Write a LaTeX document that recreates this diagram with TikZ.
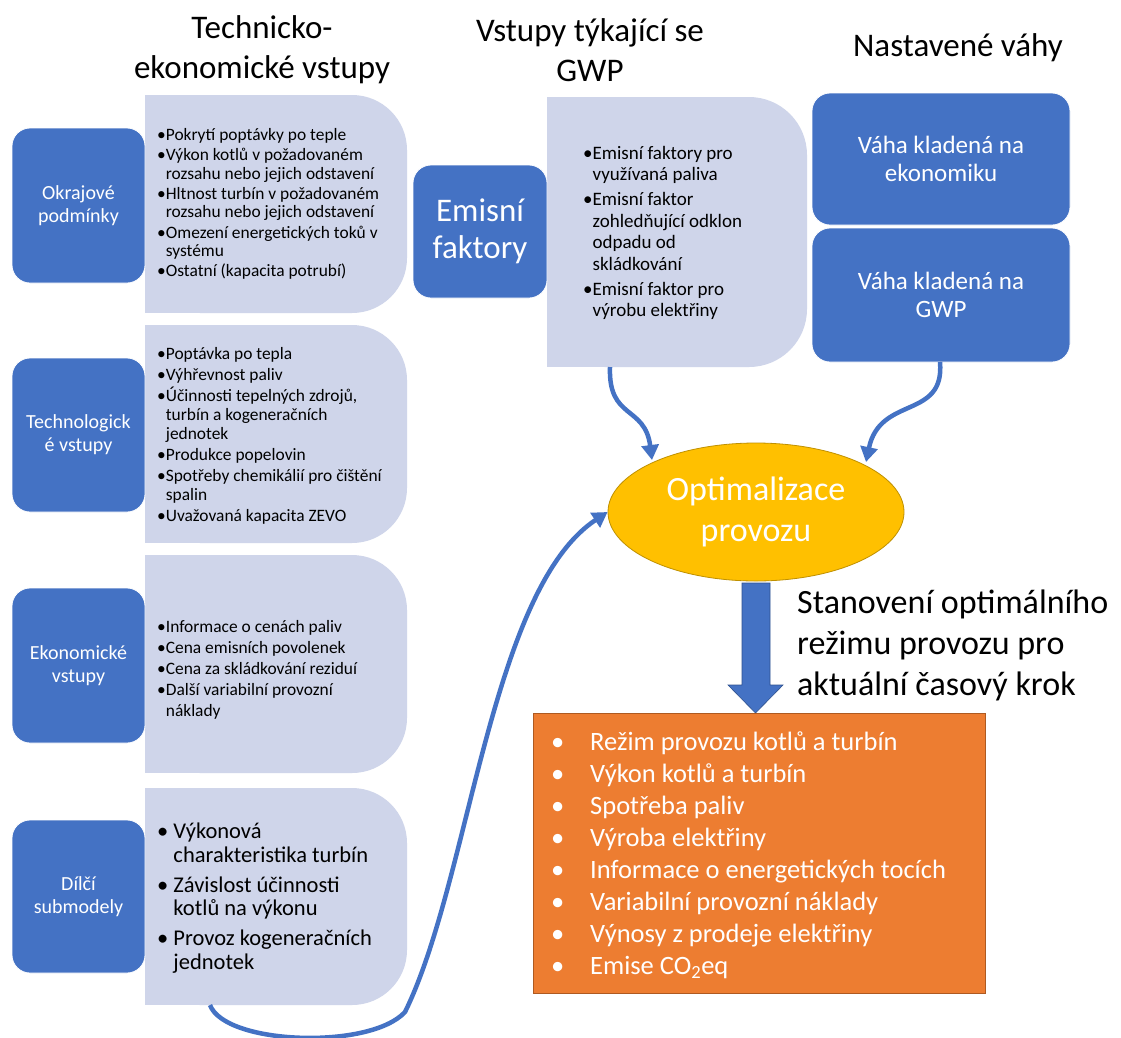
\documentclass[tikz,border=0pt]{standalone}
\usepackage{fontspec}
\setmainfont{Carlito}
\usetikzlibrary{arrows.meta,shapes.geometric}
\definecolor{cblue}{HTML}{4472C4}
\definecolor{clight}{HTML}{CFD5EA}
\definecolor{corange}{HTML}{ED7D31}
\definecolor{cyellow}{HTML}{FFC000}
\definecolor{cgold}{HTML}{BF9000}
\definecolor{cobord}{HTML}{AE5A21}
\definecolor{cbdark}{HTML}{2F528F}
\newcommand{\fsz}[2]{\fontsize{#1}{#2}\selectfont}
\newcommand{\ind}{\phantom{•}}
\newcommand{\ob}{\makebox[39pt][l]{•}}
\begin{document}
\begin{tikzpicture}[x=1pt,y=-1pt,
  bluebox/.style={fill=cblue, draw=white, line width=0.8pt, rounded corners=18pt, text=white, align=center, inner sep=0pt},
  lightbox/.style={fill=clight, rounded corners=55pt, inner sep=0pt},
  ltext/.style={anchor=west, align=left, inner sep=0pt, text=black},
  head/.style={font=\fsz{33}{40}, align=center, inner sep=0pt},
  conn/.style={draw=cblue, line width=4.5pt, -{Triangle[width=17pt,length=15pt]}},
  boxtext/.style={font=\fsz{20}{23}}]
\useasboundingbox (0,0) rectangle (1121,1037);
\fill[white] (0,0) rectangle (1121,1037);

% headers
\node[head] (h1) at (262,50) {Technicko-\\ekonomické vstupy};
\node[head] (h2) at (590,50) {Vstupy týkající se\\GWP};
\node[head] (h3) at (958,48) {Nastavené váhy};

% light boxes (left column)
\fill[clight] (145,95) rectangle (250,313);
\node[lightbox, minimum width=262pt, minimum height=218pt] (lb1) at (276,204) {};
\fill[clight] (145,325) rectangle (250,543);
\node[lightbox, minimum width=262pt, minimum height=218pt] (lb2) at (276,434) {};
\fill[clight] (145,555) rectangle (250,773);
\node[lightbox, minimum width=262pt, minimum height=218pt] (lb3) at (276,664) {};
\fill[clight] (145,788) rectangle (250,1005);
\node[lightbox, minimum width=262pt, minimum height=217pt] (lb4) at (276,896.5) {};

% blue boxes (left column)
\node[bluebox, boxtext, minimum width=133pt, minimum height=155pt] (b1) at (78.5,205.5) {Okrajové\\podmínky};
\node[bluebox, boxtext, minimum width=133pt, minimum height=154pt] (b2) at (78.5,435) {Technologick\\é vstupy};
\node[bluebox, boxtext, minimum width=133pt, minimum height=155pt] (b3) at (78.5,665.5) {Ekonomické\\vstupy};
\node[bluebox, boxtext, minimum width=133pt, minimum height=153pt] (b4) at (78.5,896.5) {Dílčí\\submodely};

% texts in light boxes
\node[ltext, font=\fsz{17.4}{18.6}] (t1) at (157,204) {•Pokrytí poptávky po teple\\[1.6pt]•Výkon kotlů v požadovaném\\\ind rozsahu nebo jejich odstavení\\[1.6pt]•Hltnost turbín v požadovaném\\\ind rozsahu nebo jejich odstavení\\[1.6pt]•Omezení energetických toků v\\\ind systému\\[1.6pt]•Ostatní (kapacita potrubí)};
\node[ltext, font=\fsz{17.4}{18.8}] (t2) at (157,436) {•Poptávka po tepla\\[2.2pt]•Výhřevnost paliv\\[2.2pt]•Účinnosti tepelných zdrojů,\\\ind turbín a kogeneračních\\\ind jednotek\\[2.2pt]•Produkce popelovin\\[2.2pt]•Spotřeby chemikálií pro čištění\\\ind spalin\\[2.2pt]•Uvažovaná kapacita ZEVO};
\node[ltext, font=\fsz{17.4}{21}] (t3) at (157,670) {•Informace o cenách paliv\\•Cena emisních povolenek\\•Cena za skládkování reziduí\\•Další variabilní provozní\\\ind náklady};
\node[ltext, font=\fsz{22.5}{23.5}] (t4) at (157,898) {•\ Výkonová\\\ind\ charakteristika turbín\\[6.5pt]•\ Závislost účinnosti\\\ind\ kotlů na výkonu\\[6.5pt]•\ Provoz kogeneračních\\\ind\ jednotek};

% GWP column
\fill[clight] (547,97) rectangle (700,367);
\node[lightbox, rounded corners=58pt, minimum width=260pt, minimum height=270pt] (lg) at (677,232) {};
\node[bluebox, font=\fsz{33}{37}, minimum width=134pt, minimum height=133pt] (ef) at (480,231.5) {Emisní\\faktory};
\node[ltext, font=\fsz{19}{21.5}] (tg) at (583,233) {•Emisní faktory pro\\\ind využívaná paliva\\[3.5pt]•Emisní faktor\\\ind zohledňující odklon\\\ind odpadu od\\\ind skládkování\\[3.5pt]•Emisní faktor pro\\\ind výrobu elektřiny};

% weights
\node[bluebox, font=\fsz{25}{28}, minimum width=258pt, minimum height=132pt] (w1) at (941,159) {Váha kladená na\\ekonomiku};
\node[bluebox, font=\fsz{25}{28}, minimum width=258pt, minimum height=134pt] (w2) at (941,295) {Váha kladená na\\GWP};

% optimisation ellipse
\node[ellipse, fill=cyellow, draw=cgold, line width=0.8pt, minimum width=296pt, minimum height=138pt, inner sep=0pt, text=white, font=\fsz{34}{41}, align=center] (opt) at (756,512) {Optimalizace\\provozu};

% block arrow
\fill[cblue, draw=cbdark, line width=0.6pt] (742,583) -- (770,583) -- (770,685) -- (783,685) -- (755.5,713) -- (728,685) -- (742,685) -- cycle;

\node[anchor=west, align=left, inner sep=0pt, font=\fsz{34}{41}] (st) at (797,645) {Stanovení optimálního\\režimu provozu pro\\aktuální časový krok};

% orange result box
\node[fill=corange, draw=cobord, line width=0.8pt, minimum width=452pt, minimum height=280pt, inner sep=0pt] (res) at (759,853) {};
\node[ltext, text=white, font=\fsz{26.5}{32}] (rt) at (551,855) {\ob Režim provozu kotlů a turbín\\\ob Výkon kotlů a turbín\\\ob Spotřeba paliv\\\ob Výroba elektřiny\\\ob Informace o energetických tocích\\\ob Variabilní provozní náklady\\\ob Výnosy z prodeje elektřiny\\\ob Emise CO\textsubscript{2}eq};

% connectors
\coordinate (c1s) at (610,367);
\coordinate (c1e) at (652,460);
\coordinate (c2s) at (940,362);
\coordinate (c2e) at (866,462);
\coordinate (c3s) at (210,1005);
\coordinate (c3m) at (405,1012);
\draw[conn] (c1s) .. controls (608,420) and (645,405) .. (c1e);
\draw[conn] (c2s) .. controls (945,420) and (880,395) .. (c2e);
\draw[conn] (c3s) .. controls (225,1045) and (370,1050) .. (c3m) .. controls (470,880) and (490,590) .. (opt.west);
\end{tikzpicture}
\end{document}
